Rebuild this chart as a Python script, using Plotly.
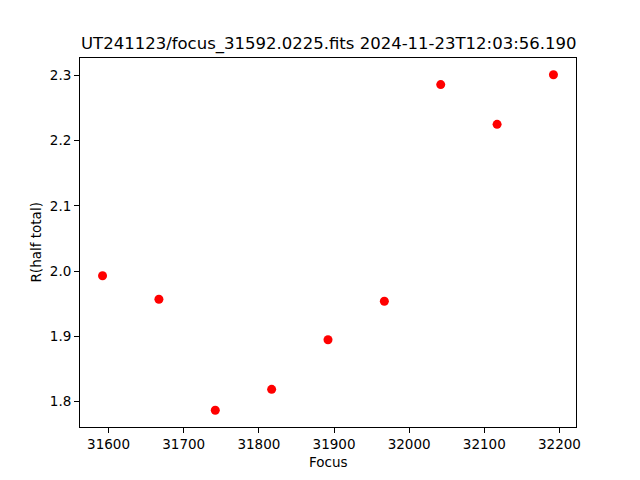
import plotly.graph_objects as go

focus = [31592, 31667, 31742, 31817, 31892, 31967, 32042, 32117, 32192]
r_half_total = [1.993, 1.957, 1.787, 1.819, 1.895, 1.954, 2.286, 2.225, 2.301]
x_ticks = [31600, 31700, 31800, 31900, 32000, 32100, 32200]
y_ticks = [1.8, 1.9, 2.0, 2.1, 2.2, 2.3]
title_text = "UT241123/focus_31592.0225.fits 2024-11-23T12:03:56.190"

fig = go.Figure()
fig.add_trace(go.Scatter(
    x=focus, y=r_half_total, mode="markers",
    marker=dict(color="#ff0000", size=9, line=dict(width=0)),
    showlegend=False,
))

axis_common = dict(
    showgrid=False, zeroline=False, showline=True, linecolor="black", linewidth=1,
    mirror=True, ticks="outside", ticklen=5, tickwidth=1, tickcolor="black",
    tickfont=dict(family="DejaVu Sans", size=13.5, color="black"),
)

xmin, xmax = min(focus), max(focus)
xpad = (xmax - xmin) * 0.05
ymin, ymax = min(r_half_total), max(r_half_total)
ypad = (ymax - ymin) * 0.05

fig.update_layout(
    width=640, height=480,
    margin=dict(l=80, r=64, t=58, b=53),
    paper_bgcolor="white", plot_bgcolor="white",
    font=dict(family="DejaVu Sans", color="black"),
    xaxis=dict(range=[xmin - xpad, xmax + xpad], tickvals=x_ticks,
               ticktext=[str(v) for v in x_ticks], **axis_common),
    yaxis=dict(range=[ymin - ypad, ymax + ypad], tickvals=y_ticks,
               ticktext=[f"{v:.1f}" for v in y_ticks], **axis_common),
    annotations=[
        dict(text=title_text, x=0.5, y=1.038, xref="paper", yref="paper",
             xanchor="center", yanchor="middle", showarrow=False,
             font=dict(family="DejaVu Sans", size=16.5, color="black")),
        dict(text="Focus", x=0.5, y=-0.094, xref="paper", yref="paper",
             xanchor="center", yanchor="middle", showarrow=False,
             font=dict(family="DejaVu Sans", size=13.5, color="black")),
        dict(text="R(half total)", x=-0.0907, y=0.5, xref="paper", yref="paper",
             xanchor="center", yanchor="middle", showarrow=False, textangle=-90,
             font=dict(family="DejaVu Sans", size=13.5, color="black")),
    ],
)

fig.write_html("out.html", config={"displayModeBar": False},
               post_script="document.body.style.margin='0';")
